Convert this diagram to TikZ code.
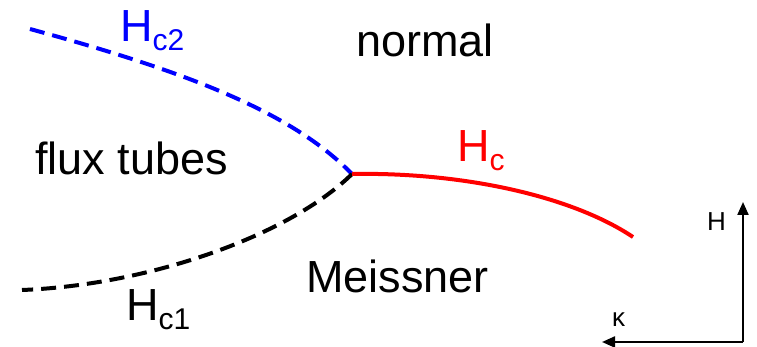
\documentclass[tikz,border=0pt]{standalone}
\usepackage{fontspec}
\setmainfont{Liberation Sans}
\usetikzlibrary{arrows.meta}
\newcommand\lowsub[1]{\raisebox{-9pt}{\fontsize{30}{36}\selectfont #1}}
\tikzset{
  bigtext/.style={inner sep=0pt, anchor=base west, font=\fontsize{45}{54}\selectfont},
  smalltext/.style={inner sep=0pt, anchor=base west, font=\fontsize{26}{31}\selectfont},
  phaseline/.style={line width=4pt},
  dashline/.style={phaseline, dash pattern=on 15pt off 8pt},
  axisline/.style={line width=2.2pt, -{Triangle[length=13pt,width=11pt]}},
}
\begin{document}
\begin{tikzpicture}[x=1pt,y=-1pt]
\useasboundingbox (0,0) rectangle (757,347);
% curve points
\coordinate (tp) at (352,174);
\coordinate (b2) at (30,29);
\coordinate (b1) at (22,290);
\coordinate (rc) at (633,237);
% curves
\draw[dashline, blue] (b2) .. controls (180,70) and (290,110) .. (tp);
\draw[dashline, black] (tp) .. controls (290,235) and (150,285) .. (b1);
\draw[phaseline, red] (tp) .. controls (460,172) and (570,195) .. (rc);
% labels
\node[bigtext, blue] (lhc2) at (120,42) {H\lowsub{c2}};
\node[bigtext] (lnormal) at (356,57) {normal};
\node[bigtext] (lflux) at (35,175) {flux tubes};
\node[bigtext, red] (lhc) at (457,162) {H\lowsub{c}};
\node[bigtext] (lmeis) at (306,292) {Meissner};
\node[bigtext] (lhc1) at (126,320) {H\lowsub{c1}};
% axes
\coordinate (ax) at (743,342);
\coordinate (axH) at (743,202);
\coordinate (axK) at (602,342);
\draw[axisline] (ax) -- (axH);
\draw[axisline] (ax) -- (axK);
\node[smalltext] (lH) at (707,231) {H};
\node[smalltext] (lK) at (612,326) {κ};
\end{tikzpicture}
\end{document}
